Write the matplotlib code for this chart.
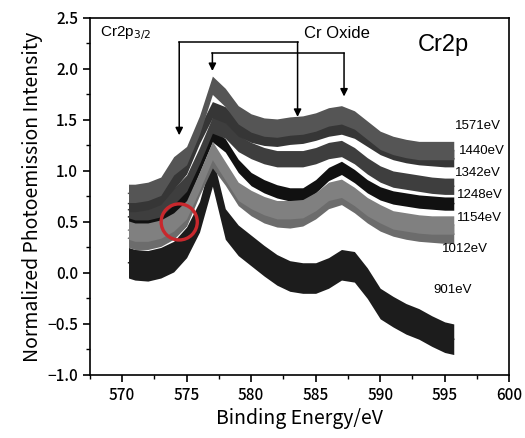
import matplotlib
matplotlib.use('Agg')
import matplotlib.pyplot as plt
from matplotlib.patches import Ellipse
from matplotlib.ticker import MultipleLocator

# binding energy grid (eV)
energy = [570.5, 571, 572, 573, 574, 575, 576, 577, 578, 579, 580, 581, 582, 583,
          584, 585, 586, 587, 588, 589, 590, 591, 592, 593, 594, 595, 595.7]

# normalized intensity for each photon energy
i_1571 = [0.78, 0.78, 0.80, 0.85, 1.05, 1.15, 1.45, 1.84, 1.72, 1.55, 1.47, 1.43, 1.42, 1.44,
          1.45, 1.48, 1.53, 1.55, 1.50, 1.40, 1.30, 1.25, 1.22, 1.20, 1.20, 1.20, 1.20]
i_1440 = [0.68, 0.68, 0.70, 0.75, 0.90, 1.05, 1.35, 1.60, 1.55, 1.42, 1.36, 1.33, 1.32, 1.34,
          1.35, 1.38, 1.42, 1.44, 1.40, 1.32, 1.24, 1.19, 1.16, 1.14, 1.13, 1.12, 1.12]
i_1342 = [0.62, 0.60, 0.60, 0.63, 0.75, 0.88, 1.15, 1.45, 1.40, 1.27, 1.20, 1.15, 1.12, 1.12,
          1.12, 1.15, 1.20, 1.22, 1.15, 1.05, 0.97, 0.92, 0.90, 0.88, 0.86, 0.85, 0.85]
i_1248 = [0.55, 0.54, 0.53, 0.55, 0.62, 0.75, 1.05, 1.35, 1.25, 1.05, 0.92, 0.85, 0.80, 0.77,
          0.77, 0.85, 0.97, 1.03, 0.95, 0.85, 0.78, 0.74, 0.72, 0.70, 0.69, 0.68, 0.68]
i_1154 = [0.42, 0.40, 0.40, 0.43, 0.50, 0.62, 0.90, 1.20, 1.00, 0.80, 0.72, 0.66, 0.62, 0.62,
          0.63, 0.70, 0.80, 0.83, 0.75, 0.65, 0.58, 0.52, 0.50, 0.48, 0.47, 0.47, 0.47]
i_1012 = [0.34, 0.32, 0.32, 0.35, 0.42, 0.55, 0.85, 1.12, 0.95, 0.75, 0.65, 0.58, 0.54, 0.53,
          0.55, 0.62, 0.72, 0.76, 0.68, 0.58, 0.50, 0.45, 0.42, 0.40, 0.39, 0.38, 0.38]
i_901 = [0.10, 0.08, 0.07, 0.10, 0.16, 0.30, 0.55, 1.00, 0.48, 0.32, 0.22, 0.12, 0.03, -0.03,
         -0.05, -0.05, 0.00, 0.08, 0.06, -0.10, -0.30, -0.38, -0.45, -0.50, -0.57, -0.63, -0.65]

# noise half-width of each spectrum
spread = {'1571': 0.09, '1440': 0.08, '1342': 0.08, '1248': 0.065,
          '1154': 0.09, '1012': 0.09, '901': 0.15}

series = [('901', i_901, '#1c1c1c'), ('1248', i_1248, '#111111'),
          ('1342', i_1342, '#3e3e3e'), ('1440', i_1440, '#363636'),
          ('1571', i_1571, '#555555'), ('1012', i_1012, '#6c6c6c'),
          ('1154', i_1154, '#808080')]

label_pos = {'1571': (595.8, 1.44), '1440': (596.1, 1.20), '1342': (595.8, 0.98),
             '1248': (595.95, 0.76), '1154': (595.95, 0.54), '1012': (594.8, 0.23),
             '901': (594.1, -0.165)}

jp = ['Noto Sans CJK JP', 'DejaVu Sans']

fig = plt.figure(figsize=(5.25, 4.38), dpi=100)
ax = fig.add_axes([0.171, 0.144, 0.799, 0.815])

for name, vals, col in series:
    lo = [v - spread[name] for v in vals]
    hi = [v + spread[name] for v in vals]
    ax.fill_between(energy, lo, hi, color=col, lw=0, zorder=2)
    ax.plot(energy, vals, color=col, lw=1.0, zorder=2)

for name, (x, y) in label_pos.items():
    ax.text(x, y, name + 'eV', fontsize=9.5, family='Liberation Sans',
            va='center', ha='left', zorder=5)

# peak markers
arrow = dict(arrowstyle='-|>', color='black', lw=1.1, shrinkA=0, shrinkB=0,
             mutation_scale=11)
ax.plot([574.43, 583.6], [2.264, 2.264], color='black', lw=1.1, zorder=4)
ax.annotate('', xy=(574.43, 1.35), xytext=(574.43, 2.264), arrowprops=arrow)
ax.annotate('', xy=(583.6, 1.53), xytext=(583.6, 2.264), arrowprops=arrow)
ax.plot([577.0, 587.2], [2.156, 2.156], color='black', lw=1.1, zorder=4)
ax.annotate('', xy=(577.0, 1.98), xytext=(577.0, 2.156), arrowprops=arrow)
ax.annotate('', xy=(587.2, 1.73), xytext=(587.2, 2.156), arrowprops=arrow)

ax.text(568.3, 2.35, r'Cr2p$_{3/2}$', fontsize=11, family='Liberation Sans', va='center')
ax.text(584.1, 2.35, 'Cr Oxide', fontsize=12, family='Liberation Sans', va='center')
ax.text(592.9, 2.23, 'Cr2p', fontsize=17, family='Liberation Sans', va='center')

ax.add_patch(Ellipse((574.43, 0.50), 2.8, 0.354, fill=False, ec='#c8282d', lw=2.4, zorder=6))

ax.set_xlim(567.5, 600)
ax.set_ylim(-1.0, 2.5)
ax.xaxis.set_major_locator(MultipleLocator(5))
ax.xaxis.set_minor_locator(MultipleLocator(2.5))
ax.yaxis.set_major_locator(MultipleLocator(0.5))
ax.yaxis.set_minor_locator(MultipleLocator(0.25))
ax.yaxis.set_major_formatter(lambda v, p: f'{v:.1f}'.replace('-', '\u2212'))
ax.tick_params(which='major', direction='out', length=5, width=1.2, labelsize=11)
ax.tick_params(which='minor', direction='out', length=3, width=1.0)
for lab in ax.get_xticklabels() + ax.get_yticklabels():
    lab.set_family(jp)
    lab.set_fontweight('medium')
for s in ax.spines.values():
    s.set_linewidth(1.2)

ax.set_xlabel('Binding Energy/eV', fontsize=14, family=jp, labelpad=3)
ax.set_ylabel('Normalized Photoemission Intensity', fontsize=14, family=jp, labelpad=3)

fig.savefig('out.png', dpi=100)
